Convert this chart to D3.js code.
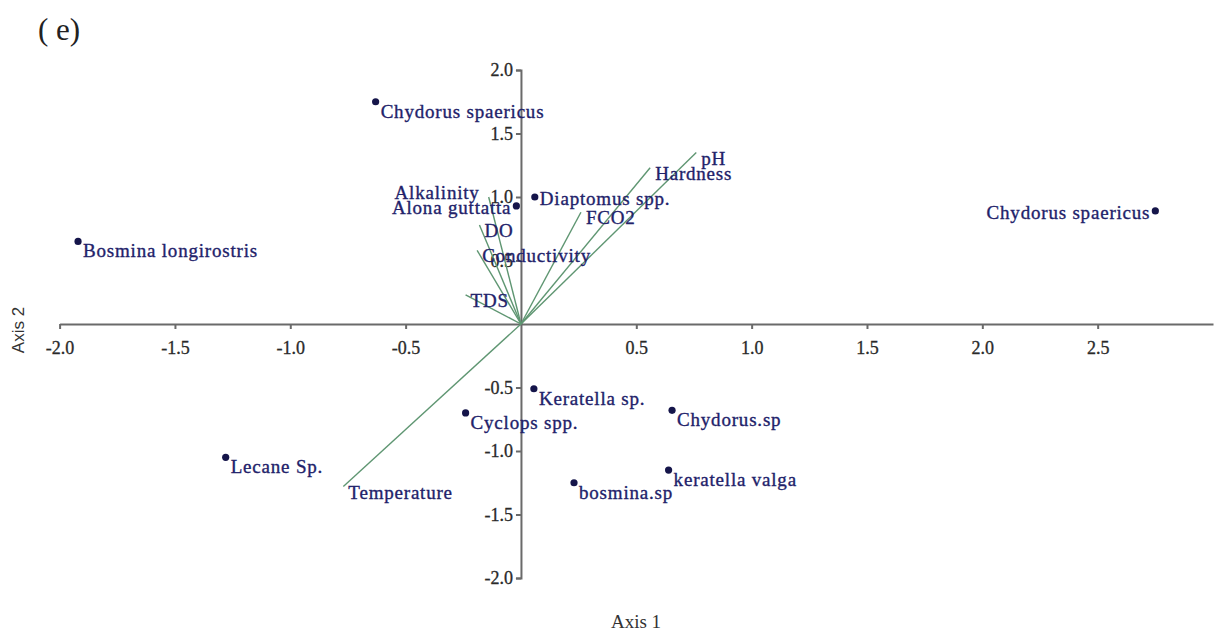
<!DOCTYPE html>
<html>
<head>
<meta charset="utf-8">
<script src="https://cdn.jsdelivr.net/npm/d3@7"></script>
<style>
    body { margin: 0; background: #fff; }
    .axis path, .axis line { stroke: #6a6a6a; stroke-width: 2; }
    .axis text { font-family: "Liberation Serif", "Times New Roman", serif; font-size: 18px; fill: #2a2a2a; stroke: #2a2a2a; stroke-width: 0.3px; }
    .lbl { font-family: "Liberation Serif", "Times New Roman", serif; font-size: 19px; fill: #22226a; stroke: #22226a; stroke-width: 0.35px; letter-spacing: 0.8px; }
</style>
</head>
<body>
<div id="chart"></div>
<script>
// species scores
const speciesNames = ["Chydorus spaericus", "Chydorus spaericus", "Bosmina longirostris", "Diaptomus spp.",
    "Alona guttatta", "Keratella sp.", "Cyclops spp.", "Chydorus.sp", "Lecane Sp.", "bosmina.sp", "keratella valga"];
const speciesAxis1 = [-0.63, 2.75, -1.92, 0.06, -0.02, 0.056, -0.24, 0.655, -1.28, 0.23, 0.64];
const speciesAxis2 = [1.75, 0.89, 0.65, 1.0, 0.93, -0.51, -0.70, -0.68, -1.05, -1.25, -1.15];

// environmental vectors
const envNames = ["pH", "Hardness", "FCO2", "Alkalinity", "DO", "Conductivity", "TDS", "Temperature"];
const envAxis1 = [0.76, 0.56, 0.26, -0.14, -0.18, -0.19, -0.24, -0.77];
const envAxis2 = [1.35, 1.23, 0.88, 1.0, 0.78, 0.58, 0.23, -1.28];

const xTicks = [-2.0, -1.5, -1.0, -0.5, 0.5, 1.0, 1.5, 2.0, 2.5];
const yTicks = [-2.0, -1.5, -1.0, -0.5, 0.5, 1.0, 1.5, 2.0];

const width = 1221, height = 634;

let svg = d3.select("#chart").append("svg")
    .attr("width", width)
    .attr("height", height);

let x = d3.scaleLinear().domain([-2, 3]).range([59.6, 1213]);
let y = d3.scaleLinear().domain([-2, 2]).range([578, 70]);

let fmt = d => d.toFixed(1);

// axes cross at origin
let xAxis = d3.axisBottom(x).tickValues(xTicks).tickFormat(fmt).tickSize(5).tickSizeOuter(0).tickPadding(12);
let yAxis = d3.axisLeft(y).tickValues(yTicks).tickFormat(fmt).tickSize(5).tickSizeOuter(5).tickPadding(3);

svg.append("g")
    .attr("class", "x-axis axis")
    .attr("transform", "translate(0," + y(0) + ")")
    .call(xAxis);

svg.append("g")
    .attr("class", "y-axis axis")
    .attr("transform", "translate(" + x(0) + ",0)")
    .call(yAxis);

svg.selectAll(".axis .tick line").attr("stroke-width", 1.5);

// vectors
let envData = envNames.map((n, i) => ({name: n, a1: envAxis1[i], a2: envAxis2[i]}));

svg.selectAll(".vec")
    .data(envData)
    .enter().append("line")
    .attr("class", "vec")
    .attr("x1", x(0)).attr("y1", y(0))
    .attr("x2", d => x(d.a1)).attr("y2", d => y(d.a2))
    .attr("stroke", "#5f9672")
    .attr("stroke-width", 1.4);

svg.selectAll(".vec-lbl")
    .data(envData)
    .enter().append("text")
    .attr("class", "lbl vec-lbl")
    .attr("text-anchor", d => d.name === "Alkalinity" ? "end" : "start")
    .attr("x", d => x(d.a1) + (d.name === "Alkalinity" ? -9 : 5))
    .attr("y", d => y(d.a2) + (d.name === "Alkalinity" ? 2 : 12))
    .text(d => d.name);

// species points
let spData = speciesNames.map((n, i) => ({name: n, a1: speciesAxis1[i], a2: speciesAxis2[i], i: i}));
// label placement: "end" = to the left of dot, "side" = beside, default = below-right
let spPlace = ["below", "end", "below", "side", "end", "below", "below", "below", "below", "below", "below"];

svg.selectAll(".dot")
    .data(spData)
    .enter().append("circle")
    .attr("class", "dot")
    .attr("cx", d => x(d.a1))
    .attr("cy", d => y(d.a2))
    .attr("r", 3.6)
    .attr("fill", "#15154a");

svg.selectAll(".sp-lbl")
    .data(spData)
    .enter().append("text")
    .attr("class", "lbl sp-lbl")
    .attr("text-anchor", d => spPlace[d.i] === "end" ? "end" : "start")
    .attr("x", d => x(d.a1) + (spPlace[d.i] === "end" ? -5 : 5))
    .attr("y", d => y(d.a2) + (spPlace[d.i] === "below" ? 16 : 8))
    .text(d => d.name);

// axis titles
svg.append("text")
    .attr("text-anchor", "middle")
    .attr("x", 636)
    .attr("y", 628)
    .style("font-family", "Liberation Serif, serif")
    .style("font-size", "19px")
    .style("fill", "#333")
    .text("Axis 1");

svg.append("text")
    .attr("text-anchor", "middle")
    .attr("transform", "translate(24,330) rotate(-90)")
    .style("font-family", "Liberation Sans, Arial, sans-serif")
    .style("font-size", "17px")
    .style("fill", "#333")
    .text("Axis 2");

// panel letter
svg.append("text")
    .attr("x", 38)
    .attr("y", 40)
    .style("font-family", "Liberation Serif, serif")
    .style("font-size", "31px")
    .style("fill", "#222")
    .text("( e)");
</script>
</body>
</html>
